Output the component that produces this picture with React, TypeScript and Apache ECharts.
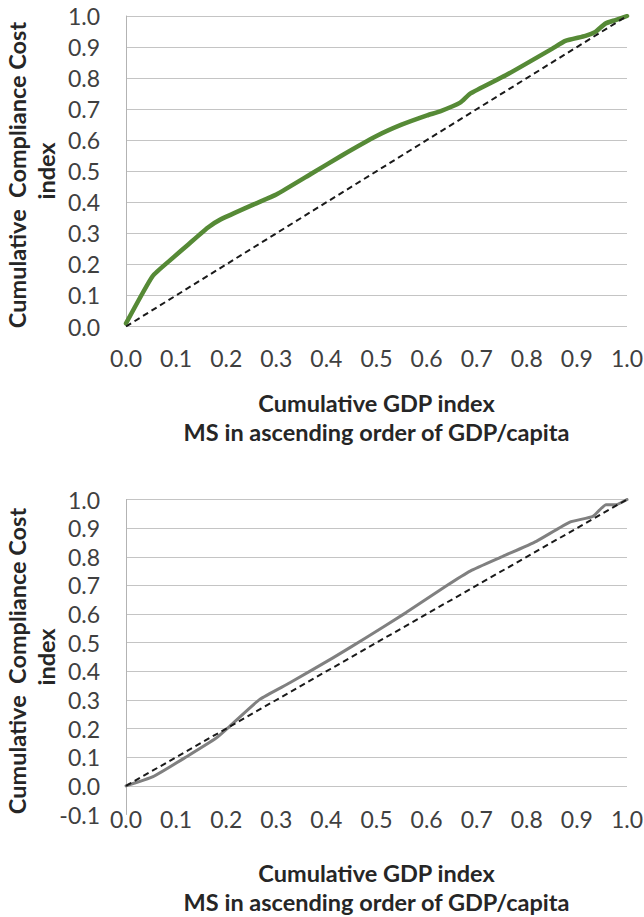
import React, { useEffect, useRef } from "react";
import * as echarts from "echarts";

// Top panel: cumulative compliance cost vs cumulative GDP (green)
const topCurve: [number, number][] = [
  [0, 0.01], [0.053, 0.162], [0.09, 0.216], [0.125, 0.265], [0.163, 0.318],
  [0.189, 0.345], [0.256, 0.394], [0.3, 0.425], [0.369, 0.491], [0.43, 0.55],
  [0.502, 0.615], [0.55, 0.65], [0.601, 0.68], [0.627, 0.693], [0.667, 0.721],
  [0.687, 0.75], [0.758, 0.809], [0.851, 0.895], [0.877, 0.92], [0.917, 0.936],
  [0.937, 0.949], [0.957, 0.976], [0.977, 0.987], [1, 1],
];

// Bottom panel (grey)
const bottomCurve: [number, number][] = [
  [0, 0], [0.054, 0.032], [0.121, 0.102], [0.18, 0.167], [0.207, 0.208],
  [0.267, 0.302], [0.327, 0.36], [0.413, 0.447], [0.479, 0.517], [0.559, 0.605],
  [0.639, 0.698], [0.687, 0.75], [0.753, 0.802], [0.819, 0.854], [0.886, 0.921],
  [0.932, 0.941], [0.958, 0.982], [0.978, 0.982], [1, 1],
];

// Line of equality
const equalityLine: [number, number][] = [[0, 0], [1, 1]];

const xRange = [0, 1];
const topYRange = [0, 1];
const bottomYRange = [-0.1, 1];
const tickStep = 0.1;

const xTitle = "Cumulative GDP index\nMS in ascending order of GDP/capita";
const yTitleLine1 = "Cumulative  Compliance Cost";
const yTitleLine2 = "index";

const FONT = "Lato";
const tickColor = "#404040";
const titleColor = "#262626";

export default function App() {
  const ref = useRef<HTMLDivElement>(null);
  useEffect(() => {
    const chart = echarts.init(ref.current!, null, { renderer: "svg" });
    const fmt = (v: number) => (Math.round(v * 10) / 10).toFixed(1);
    const tickLabel = { fontFamily: FONT, fontSize: 23, color: tickColor, formatter: fmt };
    const titleStyle = { fontFamily: FONT, fontSize: 23.5, fontWeight: "bold" as const, color: titleColor, lineHeight: 29 };

    const makeX = (gridIndex: number, margin: number, nameGap: number) => ({
      type: "value" as const,
      gridIndex,
      min: xRange[0],
      max: xRange[1],
      interval: tickStep,
      axisLine: { show: false },
      axisTick: { show: false },
      splitLine: { show: false },
      axisLabel: { ...tickLabel, margin, verticalAlign: "middle" as const },
      name: xTitle,
      nameLocation: "middle" as const,
      nameGap,
      nameTextStyle: titleStyle,
    });
    const makeY = (gridIndex: number, range: number[]) => ({
      type: "value" as const,
      gridIndex,
      min: range[0],
      max: range[1],
      interval: tickStep,
      axisLine: { show: true, lineStyle: { color: "#b3b3b3", width: 1 } },
      axisTick: { show: false },
      splitLine: { show: true, showMinLine: range[0] >= 0, lineStyle: { color: "#c4c4c4", width: 1 } },
      axisLabel: { ...tickLabel, margin: 26 },
    });

    const yTitle = (cy: number) => [
      {
        type: "text", x: 17, y: cy + 4, rotation: Math.PI / 2,
        style: { text: yTitleLine1, font: `bold 23.5px ${FONT}`, fill: titleColor, align: "center", verticalAlign: "middle" },
      },
      {
        type: "text", x: 46, y: cy, rotation: Math.PI / 2,
        style: { text: yTitleLine2, font: `bold 23.5px ${FONT}`, fill: titleColor, align: "center", verticalAlign: "middle" },
      },
    ];

    chart.setOption({
      animation: false,
      backgroundColor: "#ffffff",
      grid: [
        { left: 126, top: 16, width: 501, height: 310.5, outerBoundsMode: "none", containLabel: false },
        { left: 126, top: 499.5, width: 501, height: 315, outerBoundsMode: "none", containLabel: false },
      ],
      xAxis: [makeX(0, 31, 62), makeX(1, 4, 44)],
      yAxis: [makeY(0, topYRange), makeY(1, bottomYRange)],
      graphic: [...yTitle(171), ...yTitle(657)],
      series: [
        {
          type: "line", xAxisIndex: 0, yAxisIndex: 0, data: equalityLine, symbol: "none",
          lineStyle: { color: "#1a1a1a", width: 2, type: [6, 4] }, z: 3,
        },
        {
          type: "line", xAxisIndex: 0, yAxisIndex: 0, data: topCurve, symbol: "none",
          smooth: 0.15,
          lineStyle: { color: "#568a36", width: 4.5, cap: "round", join: "round" }, z: 2,
        },
        {
          type: "line", xAxisIndex: 1, yAxisIndex: 1, data: equalityLine, symbol: "none",
          lineStyle: { color: "#1a1a1a", width: 2, type: [6, 4] }, z: 3,
        },
        {
          type: "line", xAxisIndex: 1, yAxisIndex: 1, data: bottomCurve, symbol: "none",
          smooth: 0.15,
          lineStyle: { color: "#808080", width: 3, cap: "round", join: "round" }, z: 2,
        },
      ],
    });
    return () => chart.dispose();
  }, []);
  return (
    <div
      ref={ref}
      style={{ position: "absolute", left: 0, top: 0, width: 644, height: 917, background: "#fff" }}
    />
  );
}
